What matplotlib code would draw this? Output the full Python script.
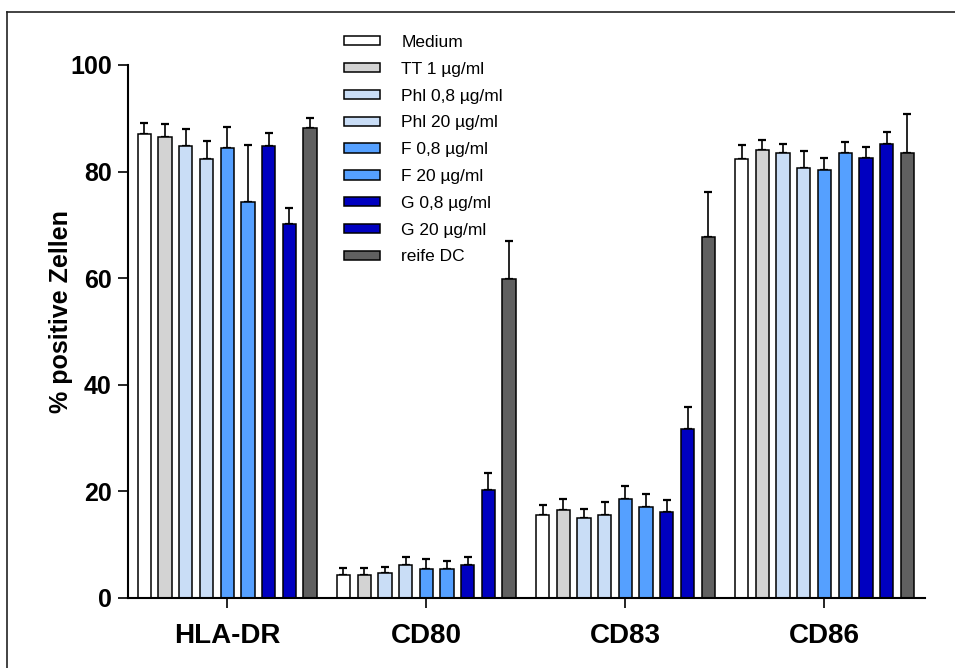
import matplotlib
matplotlib.use("Agg")
import matplotlib.pyplot as plt
import numpy as np
from matplotlib.patches import Patch
from matplotlib.lines import Line2D

plt.rcParams['font.family'] = ['Liberation Sans', 'DejaVu Sans']

markers = ["HLA-DR", "CD80", "CD83", "CD86"]
conditions = ["Medium", "TT 1 µg/ml", "Phl 0,8 µg/ml", "Phl 20 µg/ml",
              "F 0,8 µg/ml", "F 20 µg/ml", "G 0,8 µg/ml", "G 20 µg/ml", "reife DC"]
colors = ["#ffffff", "#d3d3d3", "#c9ddf6", "#c9ddf6",
          "#55a0ff", "#55a0ff", "#0000c0", "#0000c0", "#606060"]

# mean % positive cells, one list per condition (HLA-DR, CD80, CD83, CD86)
medium   = [87.1, 4.3, 15.5, 82.4]
tt       = [86.5, 4.3, 16.5, 84.1]
phl_08   = [84.8, 4.6, 15.0, 83.5]
phl_20   = [82.3, 6.1, 15.6, 80.6]
f_08     = [84.5, 5.4, 18.5, 80.3]
f_20     = [74.2, 5.4, 17.0, 83.4]
g_08     = [84.8, 6.1, 16.1, 82.6]
g_20     = [70.2, 20.2, 31.6, 85.1]
reife_dc = [88.1, 59.8, 67.7, 83.4]

# upper error (SD) per condition
medium_sd   = [2.1, 1.2, 1.9, 2.6]
tt_sd       = [2.4, 1.2, 2.0, 1.8]
phl_08_sd   = [3.1, 1.2, 1.7, 1.7]
phl_20_sd   = [3.4, 1.6, 2.3, 3.2]
f_08_sd     = [3.8, 1.8, 2.4, 2.3]
f_20_sd     = [10.7, 1.5, 2.4, 2.2]
g_08_sd     = [2.4, 1.5, 2.2, 2.1]
g_20_sd     = [3.0, 3.2, 4.2, 2.3]
reife_dc_sd = [1.9, 7.1, 8.4, 7.4]

means = [medium, tt, phl_08, phl_20, f_08, f_20, g_08, g_20, reife_dc]
sds = [medium_sd, tt_sd, phl_08_sd, phl_20_sd, f_08_sd, f_20_sd, g_08_sd, g_20_sd, reife_dc_sd]

fig = plt.figure(figsize=(9.55, 6.68), dpi=100)
ax = fig.add_axes([0.1337, 0.1052, 0.8349, 0.7975])

x = np.arange(len(markers))
pitch = 0.104
width = 0.067
n = len(conditions)
for j, (vals, err, col) in enumerate(zip(means, sds, colors)):
    pos = x + (j - (n - 1) / 2) * pitch
    vals = np.array(vals)
    err = np.array(err)
    ax.errorbar(pos, vals, yerr=[np.zeros_like(err), err], fmt='none',
                ecolor='black', elinewidth=1.2, capsize=3.0, capthick=1.6, zorder=1)
    ax.bar(pos, vals, width=width, color=col, edgecolor='black',
           linewidth=1.1, zorder=2, label=conditions[j])

ax.set_xlim(-0.5, 3.505)
ax.set_ylim(0, 100)
ax.set_yticks([0, 20, 40, 60, 80, 100])
ax.set_xticks(x)
ax.set_xticklabels(markers, fontsize=20, fontweight='bold')
for lab in ax.get_yticklabels():
    lab.set_fontsize(18)
    lab.set_fontweight('bold')

for s in ['top', 'right']:
    ax.spines[s].set_visible(False)
for s in ['left', 'bottom']:
    ax.spines[s].set_linewidth(1.5)
ax.tick_params(axis='y', length=7, width=1.2, pad=4.5)
ax.tick_params(axis='x', length=7, width=1.2, pad=11)

ax.set_ylabel("% positive Zellen", fontsize=18, fontweight='bold')
ax.yaxis.set_label_coords(-0.0686, 0.538)

handles = [Patch(facecolor=c, edgecolor='black', linewidth=1.1) for c in colors]
leg = ax.legend(handles, conditions, loc='upper left',
                bbox_to_anchor=(344 / 955, 1 - 35.0 / 668), bbox_transform=fig.transFigure,
                frameon=False, fontsize=12.5, handlelength=2.1, handleheight=0.45,
                handletextpad=1.2, labelspacing=0.68, borderpad=0, borderaxespad=0)

# outer frame
fig.add_artist(Line2D([7 / 955, 1.0], [1 - 12 / 668, 1 - 12 / 668],
                      transform=fig.transFigure, color='#222222', lw=1.2))
fig.add_artist(Line2D([7 / 955, 7 / 955], [0.0, 1 - 12 / 668],
                      transform=fig.transFigure, color='#222222', lw=1.2))

fig.savefig("out.png", dpi=100)
